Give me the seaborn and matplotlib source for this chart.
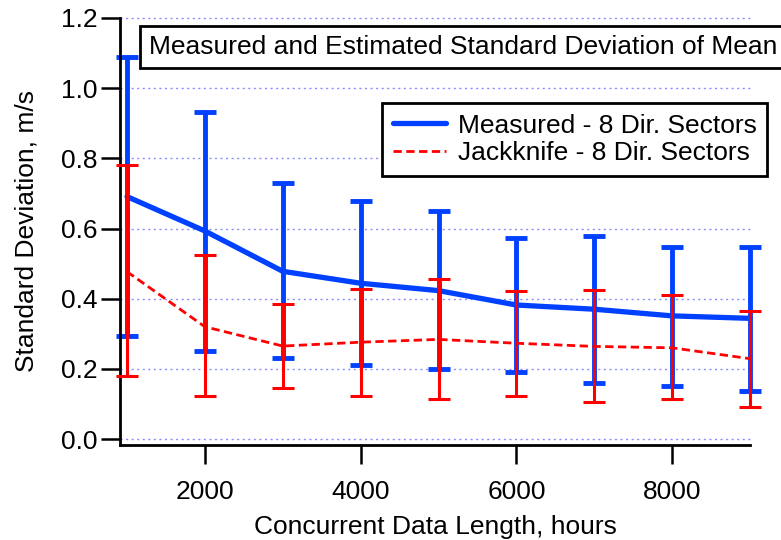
import matplotlib
matplotlib.use("Agg")
import matplotlib.pyplot as plt
import seaborn as sns
import numpy as np
import pandas as pd

# data
hours = [1000, 2000, 3000, 4000, 5000, 6000, 7000, 8000, 9000]
measured = [0.691, 0.593, 0.478, 0.444, 0.423, 0.382, 0.370, 0.351, 0.344]
measured_lo = [0.294, 0.252, 0.230, 0.212, 0.199, 0.190, 0.161, 0.152, 0.138]
measured_hi = [1.089, 0.933, 0.729, 0.679, 0.651, 0.573, 0.579, 0.548, 0.548]
jackknife = [0.477, 0.320, 0.265, 0.276, 0.284, 0.273, 0.264, 0.260, 0.229]
jackknife_lo = [0.179, 0.122, 0.146, 0.123, 0.113, 0.122, 0.105, 0.113, 0.092]
jackknife_hi = [0.781, 0.525, 0.384, 0.429, 0.456, 0.423, 0.424, 0.411, 0.365]
y_ticks = [0.0, 0.2, 0.4, 0.6, 0.8, 1.0, 1.2]
x_ticks = [2000, 4000, 6000, 8000]

BLUE = "#0040ff"
RED = "#ff0000"
FS = 19

sns.set_style("ticks")
plt.rcParams['font.family'] = ['Liberation Sans', 'DejaVu Sans']
plt.rcParams['font.size'] = FS
plt.rcParams['text.color'] = 'black'
plt.rcParams['axes.labelcolor'] = 'black'

df = pd.DataFrame({"hours": hours, "measured": measured, "jackknife": jackknife})

fig = plt.figure(figsize=(7.81, 5.40), dpi=100)
ax = fig.add_axes([120 / 781, 1 - 445 / 540, 630 / 781, 427 / 540])

for y in y_ticks:
    ax.axhline(y, color="#8c8cff", linestyle=(0, (1.5, 2.5)), linewidth=1, zorder=0)

m = np.array(measured)
eb1 = ax.errorbar(hours, measured, yerr=[m - np.array(measured_lo), np.array(measured_hi) - m],
                  fmt="none", ecolor=BLUE, elinewidth=3.5, capsize=8, capthick=3.5, zorder=2)
sns.lineplot(data=df, x="hours", y="measured", ax=ax, color=BLUE, linewidth=3.8,
             label="Measured - 8 Dir. Sectors", zorder=3)

j = np.array(jackknife)
eb2 = ax.errorbar(hours, jackknife, yerr=[j - np.array(jackknife_lo), np.array(jackknife_hi) - j],
                  fmt="none", ecolor=RED, elinewidth=2.2, capsize=8, capthick=2.2, zorder=4)
sns.lineplot(data=df, x="hours", y="jackknife", ax=ax, color=RED, linewidth=2.0,
             linestyle=(0, (3, 1.6)), label="Jackknife - 8 Dir. Sectors", zorder=5)

for eb in (eb1, eb2):
    for art in eb.lines[1] + eb.lines[2]:
        art.set_clip_on(False)
for ln in ax.lines:
    ln.set_clip_on(False)

ax.set_xlim(910, 9000)
ax.set_ylim(-0.017, 1.2)
ax.set_xticks(x_ticks)
ax.set_yticks(y_ticks)
ax.set_yticklabels([f"{v:.1f}" for v in y_ticks])
ax.tick_params(direction="out", length=14, width=1.8, colors="black", labelsize=FS, pad=2)
ax.tick_params(axis="x", pad=11)
for side in ["top", "right"]:
    ax.spines[side].set_visible(False)
for side in ["left", "bottom"]:
    ax.spines[side].set_linewidth(2)
    ax.spines[side].set_color("black")

ax.set_xlabel("Concurrent Data Length, hours", fontsize=FS, labelpad=8, color="black")
ax.set_ylabel("Standard Deviation, m/s", fontsize=FS, labelpad=16, color="black")

ax.text(0.046, 0.933, "Measured and Estimated Standard Deviation of Mean", transform=ax.transAxes,
        ha="left", va="center", fontsize=FS, clip_on=False, color="black",
        bbox=dict(boxstyle="square,pad=0.34", facecolor="white", edgecolor="black", linewidth=2))

leg = ax.legend(loc="upper right", bbox_to_anchor=(767 / 781, 1 - 103 / 540),
                bbox_transform=fig.transFigure, borderaxespad=0, fancybox=False,
                framealpha=1, edgecolor="black", fontsize=FS, handlelength=2.0,
                handletextpad=0.45, labelspacing=0.14, borderpad=0.4)
leg.get_frame().set_linewidth(2)
for t in leg.get_texts():
    t.set_color("black")

fig.savefig("out.png", dpi=100)
